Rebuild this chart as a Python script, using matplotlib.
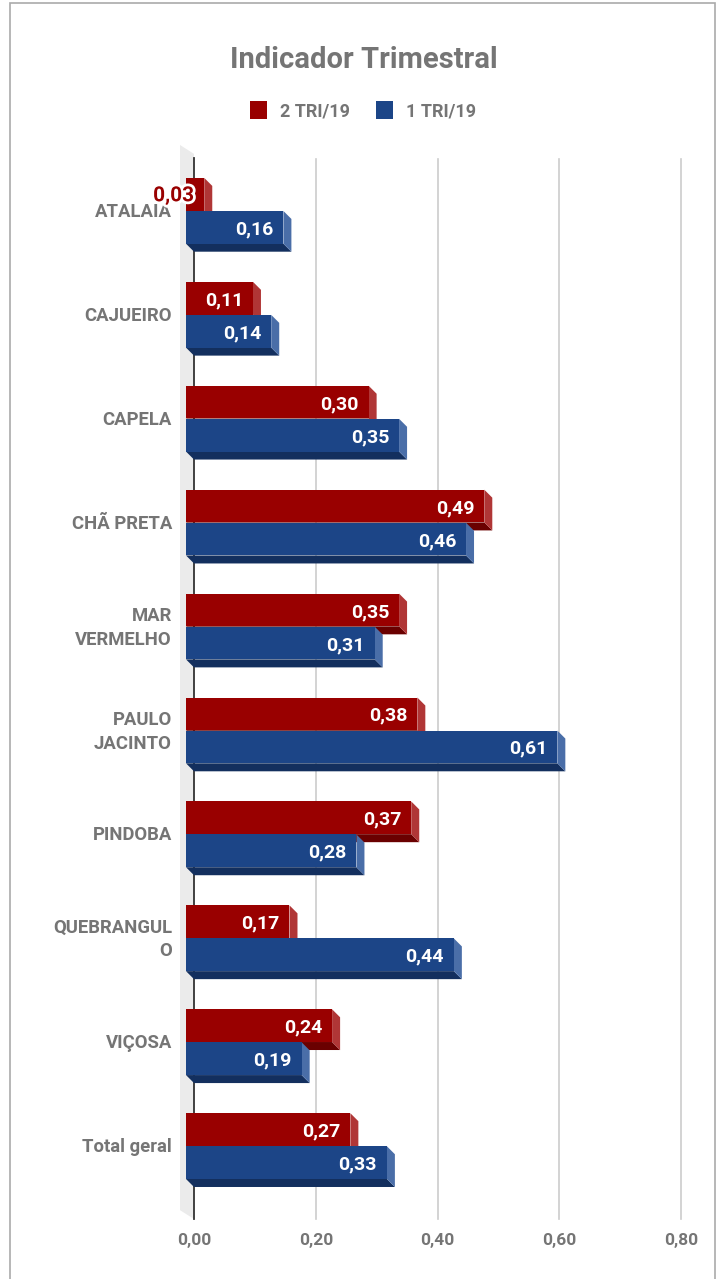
import matplotlib.pyplot as plt
from matplotlib.patches import Polygon, Rectangle
import matplotlib.patheffects as pe

plt.rcParams['font.family'] = ['Roboto', 'DejaVu Sans']

# dados
categorias = ["ATALAIA", "CAJUEIRO", "CAPELA", "CHÃ PRETA", "MAR\nVERMELHO",
              "PAULO\nJACINTO", "PINDOBA", "QUEBRANGUL\nO", "VIÇOSA", "Total geral"]
tri2 = [0.03, 0.11, 0.30, 0.49, 0.35, 0.38, 0.37, 0.17, 0.24, 0.27]
tri1 = [0.16, 0.14, 0.35, 0.46, 0.31, 0.61, 0.28, 0.44, 0.19, 0.33]
series = ["2 TRI/19", "1 TRI/19"]
xticks = [0.0, 0.2, 0.4, 0.6, 0.8]
xlabels = ["0,00", "0,20", "0,40", "0,60", "0,80"]

# cores: frente, lado, fundo
red = ("#990000", "#b03636", "#6a0000")
blue = ("#1c4587", "#4a6ea8", "#132f5e")
gray = "#757575"

W, H = 722, 1279
fig = plt.figure(figsize=(W / 100, H / 100), dpi=100)

# area do grafico em pixels
left, right, top, bottom = 194, 681, 159, 1219
ax = fig.add_axes([left / W, 1 - bottom / H, (right - left) / W, (bottom - top) / H])
ax.set_xlim(0, 0.8)
ax.set_ylim(9.70, -0.5)
for s in ax.spines.values():
    s.set_visible(False)
ax.set_yticks([])
ax.set_xticks(xticks, xlabels)
ax.tick_params(axis='x', length=0, pad=10, labelsize=12.5, labelcolor=gray)
for t in ax.get_xticklabels():
    t.set_fontweight('bold')

pxx = 0.8 / (right - left)
pxy = 10.2 / (bottom - top)
dx = 8 * pxx
dy = 8 * pxy

# parede cinza
ax.add_patch(Polygon([(-14 * pxx, -0.635), (0, -0.549), (0, 9.70), (-14 * pxx, 9.615)],
                     closed=True, facecolor="#ebebeb", edgecolor="none", clip_on=False, zorder=0))
for x in xticks[1:]:
    ax.plot([x, x], [-0.5, 9.70], color="#cccccc", lw=1.2, zorder=1, clip_on=False)
ax.plot([0, 0], [-0.51, 9.70], color="#333333", lw=1.3, zorder=1, clip_on=False)


def bar3d(y0, v, h, cores):
    x0, x1 = -dx, v - dx
    ax.add_patch(Polygon([(x0, y0 + h), (x1, y0 + h), (x1 + dx, y0 + h + dy), (x0 + dx, y0 + h + dy)],
                         closed=True, facecolor=cores[2], edgecolor="none", zorder=3, clip_on=False))
    ax.add_patch(Polygon([(x1, y0), (x1 + dx, y0 + dy), (x1 + dx, y0 + h + dy), (x1, y0 + h)],
                         closed=True, facecolor=cores[1], edgecolor="none", zorder=3, clip_on=False))
    ax.add_patch(Rectangle((x0, y0), x1 - x0, h, facecolor=cores[0], edgecolor="none",
                           zorder=3, clip_on=False))
    txt = f"{v:.2f}".replace(".", ",")
    yb = y0 + h / 2 + 7 * pxy
    if v < 0.06:
        ax.text(x1 - 10 * pxx, yb, txt, ha='right', va='baseline', fontsize=15, fontweight='bold',
                color=cores[0], zorder=5,
                path_effects=[pe.withStroke(linewidth=4, foreground='white')])
    else:
        ax.text(x1 - 10 * pxx, yb, txt, ha='right', va='baseline', fontsize=14, fontweight='bold',
                color='white', zorder=5)


h = 0.315
for i, cat in enumerate(categorias):
    bar3d(i - 0.318, tri2[i], h, red)
    bar3d(i, tri1[i], h, blue)
    linhas = cat.split("\n")
    n = len(linhas)
    for j, ln in enumerate(linhas):
        yb = i + (6 + (j - (n - 1) / 2) * 24) * pxy
        ax.text(-22 * pxx, yb, ln, ha='right', va='baseline', fontsize=13.3,
                fontweight='bold', color=gray, clip_on=False)

# titulo
fig.text(364 / W, 1 - 68 / H, "Indicador Trimestral", ha='center', va='baseline',
         fontsize=21, fontweight='bold', color=gray)

# legenda
leg_x = [250, 376]
for k, nome in enumerate(series):
    cor = red[0] if k == 0 else blue[0]
    fig.patches.append(Rectangle((leg_x[k] / W, 1 - 119 / H), 17 / W, 18 / H,
                                 transform=fig.transFigure, facecolor=cor, edgecolor='none'))
    fig.text((leg_x[k] + 30) / W, 1 - 117 / H, nome, ha='left', va='baseline',
             fontsize=13, fontweight='bold', color=gray)

# moldura
fig.patches.append(Rectangle((10 / W, -0.01), 705 / W, 1 - 3 / H + 0.01,
                             transform=fig.transFigure, facecolor='none',
                             edgecolor='#aaaaaa', lw=1.2))

fig.savefig("out.png", dpi=100)
